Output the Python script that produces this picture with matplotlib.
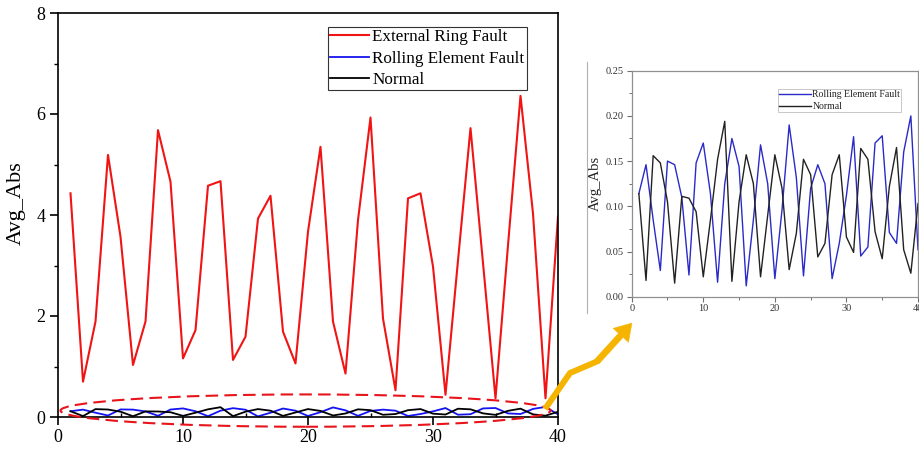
import matplotlib
matplotlib.use("Agg")
import matplotlib.pyplot as plt
import numpy as np
from matplotlib.patches import Ellipse, FancyArrowPatch
from matplotlib.lines import Line2D
from matplotlib.ticker import MultipleLocator

plt.rcParams['font.family'] = ['Liberation Serif', 'DejaVu Serif']

samples = list(range(1, 41))
external_ring = [4.43, 0.70, 1.89, 5.19, 3.57, 1.03, 1.89, 5.68, 4.66, 1.16,
                 1.72, 4.58, 4.67, 1.13, 1.59, 3.93, 4.38, 1.69, 1.06, 3.67,
                 5.35, 1.89, 0.86, 3.90, 5.93, 1.95, 0.53, 4.33, 4.43, 2.98,
                 0.44, 3.10, 5.72, 3.05, 0.37, 3.40, 6.36, 4.03, 0.37, 3.97]
rolling_element = [0.114, 0.146, 0.085, 0.029, 0.150, 0.146, 0.110, 0.024, 0.148, 0.170,
                   0.114, 0.016, 0.125, 0.175, 0.144, 0.012, 0.085, 0.168, 0.125, 0.020,
                   0.096, 0.190, 0.132, 0.023, 0.120, 0.146, 0.125, 0.020, 0.059, 0.112,
                   0.177, 0.045, 0.055, 0.170, 0.178, 0.071, 0.059, 0.160, 0.200, 0.052]
normal = [0.114, 0.018, 0.156, 0.148, 0.105, 0.015, 0.111, 0.109, 0.094, 0.022,
          0.085, 0.152, 0.194, 0.017, 0.105, 0.157, 0.125, 0.022, 0.090, 0.157,
          0.120, 0.030, 0.070, 0.152, 0.135, 0.044, 0.059, 0.135, 0.157, 0.066,
          0.049, 0.164, 0.152, 0.072, 0.042, 0.122, 0.165, 0.052, 0.026, 0.103]

labels = ["External Ring Fault", "Rolling Element Fault", "Normal"]
main_xticks = [0, 10, 20, 30, 40]
main_yticks = [0, 2, 4, 6, 8]
inset_yticks = [0.00, 0.05, 0.10, 0.15, 0.20, 0.25]

W, H = 920, 450
fig = plt.figure(figsize=(9.2, 4.5), dpi=100)

def fx(px):
    return px / W

def fy(py):
    return 1 - py / H

# ---------- main axes ----------
ax = fig.add_axes([fx(58), fy(417), fx(558) - fx(58), fy(13) - fy(417)])
ax.plot(samples, external_ring, color='#f01414', lw=1.5, label=labels[0])
ax.plot(samples, rolling_element, color='#1414f0', lw=1.3, label=labels[1])
ax.plot(samples, normal, color='black', lw=1.3, label=labels[2])
ax.set_xlim(0, 40)
ax.set_ylim(0, 8)
ax.set_xticks(main_xticks)
ax.set_yticks(main_yticks)
ax.xaxis.set_minor_locator(MultipleLocator(5))
ax.yaxis.set_minor_locator(MultipleLocator(1))
for s in ax.spines.values():
    s.set_linewidth(1.2)
ax.tick_params(which='major', direction='out', length=6, width=1.2, labelsize=13, pad=3)
ax.tick_params(axis='y', which='minor', direction='out', length=3, width=1.0)
ax.tick_params(axis='x', which='minor', direction='in', length=3, width=1.0)
ax.set_ylabel("Avg_Abs", fontsize=16)
ax.yaxis.set_label_coords(-0.064, 0.53)

leg = ax.legend(loc='upper left', bbox_to_anchor=(fx(327.7), fy(26.7)),
                bbox_transform=fig.transFigure, fontsize=12.3, frameon=True,
                fancybox=False, edgecolor='#333333', framealpha=1,
                handlelength=2.3, handletextpad=0.2, borderpad=0.12,
                labelspacing=0.34, borderaxespad=0)
leg.get_frame().set_linewidth(0.8)

# dashed ellipse around low series
ell = Ellipse((19.8, 0.127), 39.2, 0.64, fill=False, edgecolor='#e8141b',
              lw=1.5, linestyle=(0, (6, 3)), clip_on=False, zorder=5)
ax.add_patch(ell)

# ---------- inset panel ----------
fig.add_artist(Line2D([fx(587), fx(587)], [fy(62), fy(313)], color='#b0b0b0', lw=0.8))

ins = fig.add_axes([fx(631.7), fy(296.7), fx(918) - fx(631.7), fy(70.7) - fy(296.7)])
ins.plot(samples, rolling_element, color='#2a2ac8', lw=1.0, label=labels[1])
ins.plot(samples, normal, color='#222222', lw=1.0, label=labels[2])
ins.set_xlim(0, 40)
ins.set_ylim(0, 0.25)
ins.set_xticks(main_xticks)
ins.set_yticks(inset_yticks)
ins.set_yticklabels([f"{v:.2f}" for v in inset_yticks])
ins.xaxis.set_minor_locator(MultipleLocator(5))
ins.yaxis.set_minor_locator(MultipleLocator(0.025))
for s in ins.spines.values():
    s.set_linewidth(0.9)
    s.set_color('#909090')
ins.tick_params(which='major', direction='out', length=3.5, width=0.8, color='#707070',
                labelsize=7.5, labelcolor='#333333', pad=2)
ins.tick_params(which='minor', direction='out', length=2, width=0.7, color='#707070')
ins.set_ylabel("Avg_Abs", fontsize=10.5, color='#222222')
ins.yaxis.set_label_coords(-0.104, 0.5)

leg2 = ins.legend(loc='upper left', bbox_to_anchor=(fx(777.7), fy(89.3)),
                  bbox_transform=fig.transFigure, fontsize=7, frameon=True,
                  fancybox=False, edgecolor='#c8c8c8', framealpha=1,
                  handlelength=3.3, handletextpad=0.15, borderpad=0.1,
                  labelspacing=0.3, borderaxespad=0)
leg2.get_frame().set_linewidth(0.7)
for t in leg2.get_texts():
    t.set_color('#222222')

# ---------- arrow ----------
gold = '#f5b400'
pts = [(545, 409), (570, 373), (598, 361)]
fig.add_artist(Line2D([fx(p[0]) for p in pts], [fy(p[1]) for p in pts],
                      color=gold, lw=4.3, solid_capstyle='butt', solid_joinstyle='miter'))
arr = FancyArrowPatch((fx(597), fy(361.5)), (fx(632), fy(323)), transform=fig.transFigure,
                      arrowstyle='simple,head_width=1.5,head_length=1.2,tail_width=0.45',
                      mutation_scale=10, color=gold, lw=0.3, shrinkA=0, shrinkB=0)
fig.add_artist(arr)

fig.savefig("out.png", dpi=100)
